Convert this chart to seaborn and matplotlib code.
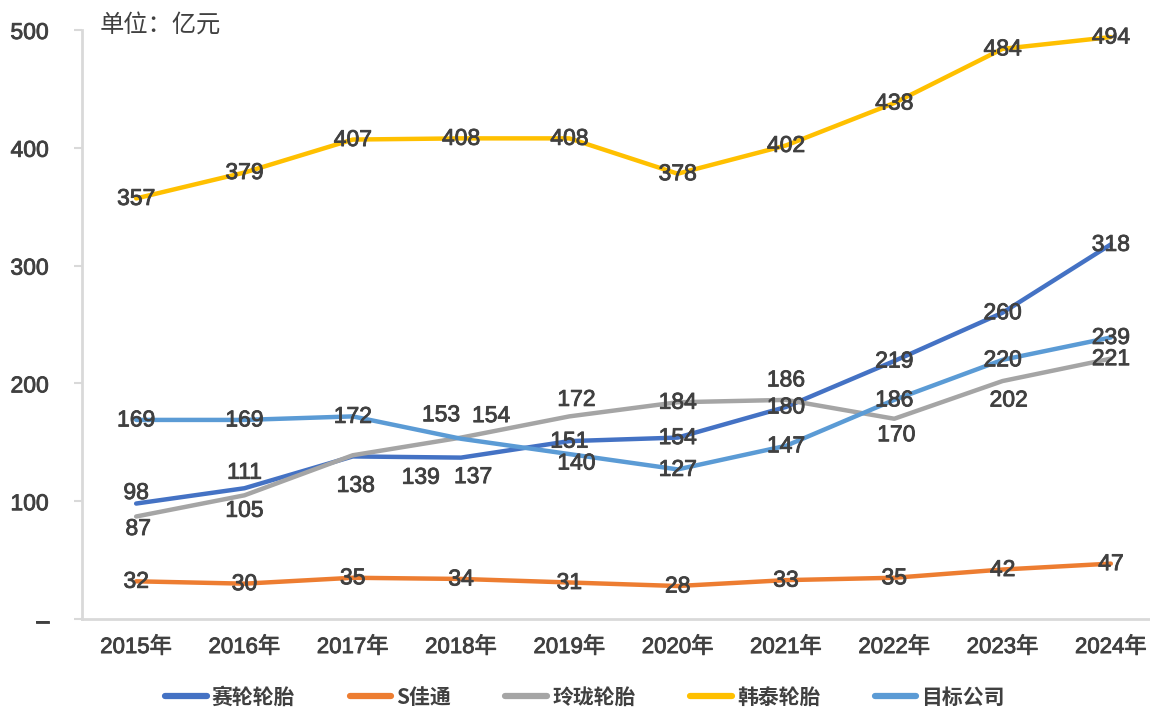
import matplotlib
matplotlib.use("Agg")
import matplotlib.pyplot as plt
import matplotlib.patheffects as pe
import seaborn as sns
import pandas as pd

# ========================================================
# 数据
# ========================================================
YEARS = ["2015年", "2016年", "2017年", "2018年", "2019年",
         "2020年", "2021年", "2022年", "2023年", "2024年"]
COMPANIES = ["赛轮轮胎", "S佳通", "玲珑轮胎", "韩泰轮胎", "目标公司"]

sailun = [98, 111, 138, 137, 151, 154, 180, 219, 260, 318]
sjiatong = [32, 30, 35, 34, 31, 28, 33, 35, 42, 47]
linglong = [87, 105, 139, 154, 172, 184, 186, 170, 202, 221]
hantai = [357, 379, 407, 408, 408, 378, 402, 438, 484, 494]
target = [169, 169, 172, 153, 140, 127, 147, 186, 220, 239]

SERIES = [sailun, sjiatong, linglong, hantai, target]
COLORS = ["#4472C4", "#ED7D31", "#A5A5A5", "#FFC000", "#5B9BD5"]

# 数据标签偏移 (像素, dx, dy；dy>0 向上)
C = (0, 0)
LABEL_OFFSETS = [
    [(0, 11), (0, 16), (3, -29), (12, -19), C, C, C, C, C, C],
    [C] * 10,
    [(2, -12), (0, -15), (68, -22), (30, 22), (7, 17), C, (0, 20), (2, -16), (6, -19), C],
    [C] * 10,
    [C, C, C, (-20, 24), (7, -9), C, C, C, C, C],
]

TEXT_COLOR = "#404040"
SPINE_COLOR = "#D9D9D9"
NUM_FONT = ["Liberation Sans", "Noto Sans CJK SC"]
CJK_FONT = ["Noto Sans CJK SC", "DejaVu Sans"]
THICK = [pe.withStroke(linewidth=0.6, foreground=TEXT_COLOR)]

rows = []
for name, vals in zip(COMPANIES, SERIES):
    for i, (yr, v) in enumerate(zip(YEARS, vals)):
        rows.append({"idx": i, "year": yr, "company": name, "value": v})
df = pd.DataFrame(rows)

sns.set_theme(style="white")
plt.rcParams["font.family"] = NUM_FONT

fig = plt.figure(figsize=(11.5, 7.09), dpi=100)
ax = fig.add_axes([82 / 1150, 90 / 709, 1083 / 1150, 589 / 709])

sns.lineplot(data=df, x="idx", y="value", hue="company", hue_order=COMPANIES,
             palette=COLORS, linewidth=3.2, sort=False, ax=ax, legend=False)
for line in ax.lines:
    line.set_solid_capstyle("round")

# 数据标签
for vals, offs in zip(SERIES, LABEL_OFFSETS):
    for i, (v, (dx, dy)) in enumerate(zip(vals, offs)):
        ax.annotate(str(v), (i, v), xytext=(dx, dy), textcoords="offset pixels",
                    ha="center", va="center", fontsize=16.5, color=TEXT_COLOR,
                    family=NUM_FONT, zorder=5, path_effects=THICK)

ax.set_xlim(-0.5, 9.5)
ax.set_ylim(0, 500)
ax.set_xlabel("")
ax.set_ylabel("")

# 坐标轴
ax.set_xticks(range(len(YEARS)))
ax.set_xticklabels(YEARS, family=NUM_FONT, fontsize=16, color=TEXT_COLOR)
ax.set_xticks([i + 0.5 for i in range(len(YEARS) - 1)], minor=True)
ax.tick_params(axis="x", which="major", length=0, pad=13)
ax.tick_params(axis="x", which="minor", length=6, width=1.5, color=SPINE_COLOR, direction="out")

ax.set_yticks([0, 100, 200, 300, 400, 500])
ax.set_yticklabels(["–", "100", "200", "300", "400", "500"], family=NUM_FONT,
                   fontsize=16.5, color=TEXT_COLOR)
ax.tick_params(axis="y", length=6, width=1.5, color=SPINE_COLOR, direction="out", pad=18, left=True)
for t in ax.get_xticklabels() + ax.get_yticklabels():
    t.set_path_effects(THICK)

for s in ["top", "right"]:
    ax.spines[s].set_visible(False)
for s in ["left", "bottom"]:
    ax.spines[s].set_color(SPINE_COLOR)
    ax.spines[s].set_linewidth(2)

fig.text(100 / 1150, 1 - 12 / 709, "单位：亿元", ha="left", va="top",
         fontsize=17.5, color=TEXT_COLOR, family=CJK_FONT, weight="medium")

# 图例
handles = [plt.Line2D([], [], color=c, linewidth=4.5, solid_capstyle="round") for c in COLORS]
leg = fig.legend(handles, COMPANIES, loc="center", bbox_to_anchor=(585 / 1150, 12 / 709),
                 ncol=5, frameon=False, handlelength=2.0, handletextpad=0.25,
                 columnspacing=2.6, prop={"family": CJK_FONT, "size": 15, "weight": "bold"})
for t in leg.get_texts():
    t.set_color(TEXT_COLOR)

fig.savefig("out.png", dpi=100)
